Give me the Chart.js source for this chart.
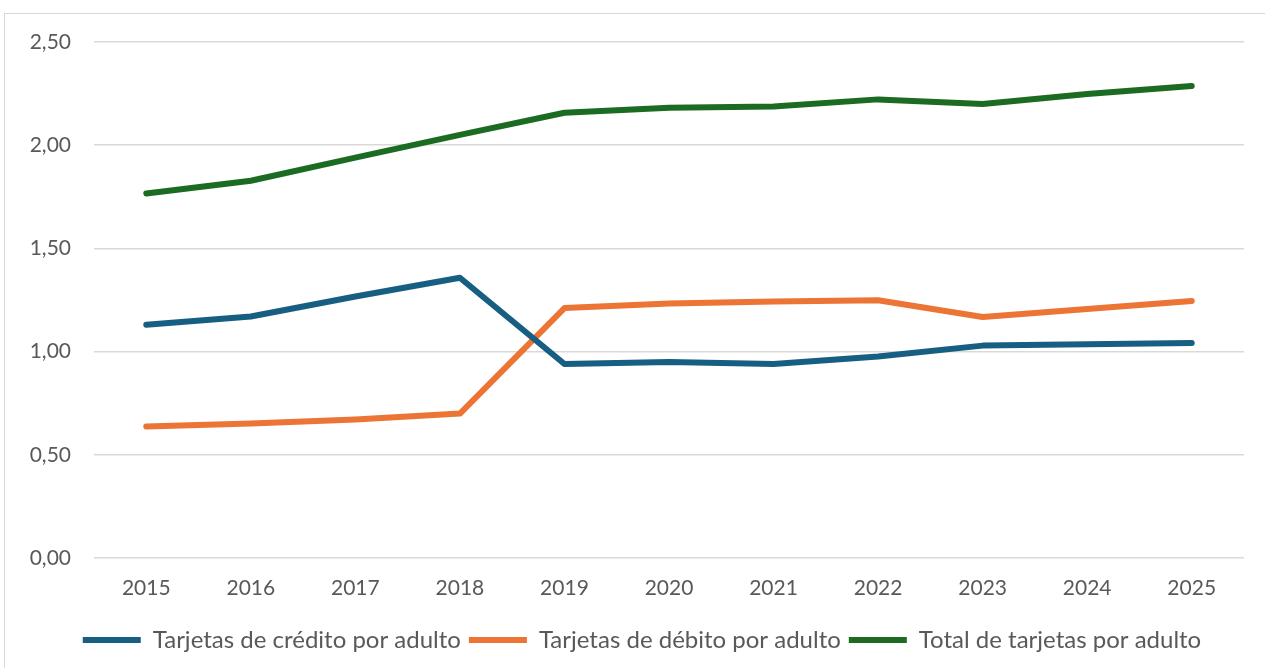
<!DOCTYPE html>
<html>
<head>
<meta charset="utf-8">
<script src="https://cdn.jsdelivr.net/npm/chart.js@4/dist/chart.umd.min.js"></script>
<style>
  html, body { margin: 0; padding: 0; background: #fff; overflow: hidden; }
  .frame {
    position: absolute;
    left: 4px; top: 13px;
    width: 1280px; height: 700px;
    border: 1.5px solid #d9d9d9;
  }
  .wrap { position: absolute; left: 0; top: 0; width: 1265px; height: 668px; }
</style>
</head>
<body>
<div class="frame"></div>
<div class="wrap"><canvas id="chart"></canvas></div>
<script>
const years = ['2015', '2016', '2017', '2018', '2019', '2020', '2021', '2022', '2023', '2024', '2025']
const credito = [1.13, 1.17, 1.267, 1.358, 0.94, 0.95, 0.94, 0.976, 1.029, 1.036, 1.042]
const debito = [0.637, 0.652, 0.671, 0.70, 1.211, 1.233, 1.243, 1.249, 1.168, 1.206, 1.245]
const total = [1.766, 1.828, 1.94, 2.05, 2.157, 2.182, 2.187, 2.222, 2.20, 2.248, 2.287]
const yTicks = [0, 0.5, 1, 1.5, 2, 2.5]

const textColor = '#595959'
const fontFamily = 'Lato, "Open Sans", sans-serif'

const lineSet = (label, data, color) => ({
  label,
  data,
  borderColor: color,
  backgroundColor: color,
  borderWidth: 6,
  borderCapStyle: 'round',
  borderJoinStyle: 'round',
  pointRadius: 0,
  pointStyle: 'line',
  tension: 0
})

// the legend in the reference sits a little right of the plot centre
const shiftLegend = {
  id: 'shiftLegend',
  afterLayout(chart) {
    chart.legend.left += 20
    chart.legend.right += 20
  }
}

const ctx = document.getElementById('chart').getContext('2d')

new Chart(ctx, {
  type: 'line',
  data: {
    labels: years,
    datasets: [
      lineSet('Tarjetas de crédito por adulto', credito, '#175f82'),
      lineSet('Tarjetas de débito por adulto', debito, '#ec7434'),
      lineSet('Total de tarjetas por adulto', total, '#1b6b23')
    ]
  },
  plugins: [shiftLegend],
  options: {
    animation: false,
    responsive: true,
    maintainAspectRatio: false,
    layout: {
      padding: { top: 42, right: 21, left: 0, bottom: 6 }
    },
    scales: {
      x: {
        offset: true,
        grid: { display: false, drawTicks: false },
        border: { display: false },
        ticks: {
          color: textColor,
          font: { family: fontFamily, size: 21 },
          padding: 18,
          maxRotation: 0
        },
        afterFit: scale => { scale.height = 62 }
      },
      y: {
        min: 0,
        max: 2.5,
        afterBuildTicks: scale => {
          scale.ticks = yTicks.map(value => ({ value }))
        },
        grid: { color: '#d9d9d9', lineWidth: 1.5, drawTicks: false },
        border: { display: false },
        ticks: {
          color: textColor,
          font: { family: fontFamily, size: 21 },
          padding: 23,
          callback: value => value.toFixed(2).replace('.', ',')
        },
        afterFit: scale => { scale.width = 94 }
      }
    },
    plugins: {
      legend: {
        position: 'bottom',
        labels: {
          usePointStyle: true,
          pointStyleWidth: 58,
          color: textColor,
          font: { family: fontFamily, size: 24 },
          padding: 8
        }
      },
      tooltip: { enabled: false }
    }
  }
})
</script>
</body>
</html>
